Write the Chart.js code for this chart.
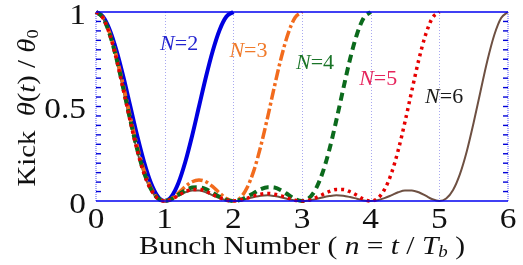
<!DOCTYPE html>
<html>
<head>
<meta charset="utf-8">
<script src="https://cdn.jsdelivr.net/npm/chart.js@4.4.0/dist/chart.umd.min.js"></script>
<style>
  html, body { margin: 0; padding: 0; background: #fff; }
  #wrap { width: 523px; height: 265px; }
</style>
</head>
<body>
<div id="wrap"><canvas id="kickChart"></canvas></div>
<script>
// bunch number n = t / Tb
const bunchN = [0,0.1,0.2,0.3,0.4,0.5,0.6,0.7,0.8,0.9,1,1.1,1.2,1.3,1.4,1.5,1.6,1.7,1.8,1.9,2,
  2.1,2.2,2.3,2.4,2.5,2.6,2.7,2.8,2.9,3,3.1,3.2,3.3,3.4,3.5,3.6,3.7,3.8,3.9,4,
  4.1,4.2,4.3,4.4,4.5,4.6,4.7,4.8,4.9,5,5.1,5.2,5.3,5.4,5.5,5.6,5.7,5.8,5.9,6];

// kick theta(t)/theta0
const kickN2 = [1,.976,.905,.794,.655,.5,.345,.206,.095,.024,0,.024,.095,.206,.345,.5,.655,.794,.905,.976,1];
const kickN3 = [1,.971,.888,.762,.608,.444,.291,.162,.070,.016,0,.013,.042,.076,.102,.111,.102,.076,.042,.013,0,
  .016,.070,.162,.291,.444,.608,.762,.888,.971,1];
const kickN4 = [1,.970,.882,.751,.592,.427,.274,.150,.063,.014,0,.010,.033,.056,.071,.073,.063,.043,.022,.006,0,
  .006,.022,.043,.063,.073,.071,.056,.033,.010,0,.014,.063,.150,.274,.427,.592,.751,.882,.970,1];
const kickN5 = [1,.969,.880,.746,.585,.419,.267,.144,.060,.013,0,.009,.030,.049,.061,.061,.051,.034,.017,.004,0,
  .004,.014,.027,.036,.040,.036,.027,.014,.004,0,.004,.017,.034,.051,.061,.061,.049,.030,.009,0,
  .013,.060,.144,.267,.419,.585,.746,.880,.969,1];
const kickN6 = [1,.968,.878,.743,.581,.415,.263,.142,.058,.013,0,.009,.028,.046,.056,.056,.046,.030,.015,.004,0,
  .003,.012,.021,.028,.030,.026,.019,.010,.003,0,.003,.010,.019,.026,.030,.028,.021,.012,.003,0,
  .004,.015,.030,.046,.056,.056,.046,.028,.009,0,.013,.058,.142,.263,.415,.581,.743,.878,.968,1];

const seriesNames = ["N=2","N=3","N=4","N=5","N=6"];
const xTicks = [0,1,2,3,4,5,6];
const yTickLabels = [0,0.5,1];

const SERIF = '"Liberation Serif", Tinos, "Times New Roman", Times, serif';

function pts(arr){ return arr.map((v,i)=>({x: bunchN[i], y: v})); }

// text with italic / subscript parts
function setFont(ctx, p, size){
  const s = p.sub ? Math.round(size*0.62) : size;
  ctx.font = (p.it ? "italic " : "normal ") + s + "px " + SERIF;
}
function richWidth(ctx, parts, size){
  let w = 0;
  parts.forEach(p=>{ setFont(ctx, p, size); w += ctx.measureText(p.t).width; });
  return w;
}
function drawRich(ctx, parts, x, y, size, color, sx){
  sx = sx || 1;
  ctx.save();
  ctx.translate(x, y);
  ctx.scale(sx, 1);
  const w = richWidth(ctx, parts, size);
  let cx = -w/2;
  ctx.fillStyle = color;
  ctx.textBaseline = "middle";
  ctx.textAlign = "left";
  parts.forEach(p=>{
    setFont(ctx, p, size);
    ctx.fillText(p.t, cx, p.sub ? size*0.25 : 0);
    cx += ctx.measureText(p.t).width;
  });
  ctx.restore();
}

const curveLabels = [
  {n: 1.21, v: 0.825, txt: "2", color: "#2323d0"},
  {n: 2.22, v: 0.79,  txt: "3", color: "#f07a2a"},
  {n: 3.19, v: 0.725, txt: "4", color: "#1a7428"},
  {n: 4.11, v: 0.64,  txt: "5", color: "#e6245c"},
  {n: 5.07, v: 0.545, txt: "6", color: "#1a1a1a"}
];

const framePlugin = {
  id: "frame",
  beforeDatasetsDraw(chart){
    const ctx = chart.ctx, xs = chart.scales.x, ys = chart.scales.y;
    const top = ys.getPixelForValue(1), bot = ys.getPixelForValue(0);
    ctx.save();
    ctx.strokeStyle = "#a8a8f0";
    ctx.lineWidth = 1;
    ctx.setLineDash([1,2]);
    [1,2,3,4,5].forEach(n=>{
      const px = Math.round(xs.getPixelForValue(n)) + 0.5;
      ctx.beginPath(); ctx.moveTo(px, top); ctx.lineTo(px, bot); ctx.stroke();
    });
    ctx.restore();
  },
  afterDatasetsDraw(chart){
    const ctx = chart.ctx, xs = chart.scales.x, ys = chart.scales.y;
    const left = xs.getPixelForValue(0), right = xs.getPixelForValue(6);
    const top = ys.getPixelForValue(1), bot = ys.getPixelForValue(0);
    ctx.save();
    // dotted side axes
    ctx.strokeStyle = "#7070ff";
    ctx.lineWidth = 1.2;
    ctx.setLineDash([1,1]);
    [left, right].forEach(px=>{
      ctx.beginPath(); ctx.moveTo(px, top); ctx.lineTo(px, bot); ctx.stroke();
    });
    ctx.setLineDash([]);
    // inward minor ticks every 0.05
    ctx.strokeStyle = "#0000d8";
    ctx.lineWidth = 1.4;
    for (let k = 1; k < 20; k++){
      const py = ys.getPixelForValue(k*0.05);
      ctx.beginPath(); ctx.moveTo(left, py); ctx.lineTo(left+5, py); ctx.stroke();
      ctx.beginPath(); ctx.moveTo(right, py); ctx.lineTo(right-5, py); ctx.stroke();
    }
    // solid top and bottom lines
    ctx.strokeStyle = "#0000f0";
    ctx.lineWidth = 1.6;
    [top, bot].forEach(py=>{
      ctx.beginPath(); ctx.moveTo(left, py); ctx.lineTo(right, py); ctx.stroke();
    });
    ctx.restore();

    // tick labels
    xTicks.forEach(n=>{
      drawRich(ctx, [{t: String(n)}], xs.getPixelForValue(n), bot + 19, 29, "#111", 1.15);
    });
    yTickLabels.forEach(v=>{
      const w = richWidth(ctx, [{t: String(v)}], 29) * 1.15;
      drawRich(ctx, [{t: String(v)}], left - 10 - w/2, ys.getPixelForValue(v) + 4, 29, "#111", 1.15);
    });

    // axis titles
    drawRich(ctx, [
      {t: "Bunch Number ( "}, {t: "n", it: true}, {t: " = "}, {t: "t", it: true},
      {t: " / "}, {t: "T", it: true}, {t: "b", it: true, sub: true}, {t: " )"}
    ], (left+right)/2, 247, 25, "#111", 1.18);

    ctx.save();
    ctx.translate(28, 108);
    ctx.rotate(-Math.PI/2);
    drawRich(ctx, [
      {t: "Kick  "}, {t: "θ", it: true}, {t: "("}, {t: "t", it: true}, {t: ")"},
      {t: " / "}, {t: "θ", it: true}, {t: "0", sub: true}
    ], 0, 0, 25, "#111", 1.15);
    ctx.restore();

    // curve labels
    curveLabels.forEach(l=>{
      drawRich(ctx, [{t: "N", it: true}, {t: "=" + l.txt}],
        xs.getPixelForValue(l.n), ys.getPixelForValue(l.v), 20, l.color, 1.1);
    });
  }
};

function makeChart(){
  new Chart(document.getElementById("kickChart"), {
    type: "line",
    data: {
      datasets: [
        {label: seriesNames[0], data: pts(kickN2), borderColor: "#0000e0", borderWidth: 4, order: 5},
        {label: seriesNames[1], data: pts(kickN3), borderColor: "#f26b1d", borderWidth: 3.5,
          borderDash: [11,3,3,3], order: 3},
        {label: seriesNames[2], data: pts(kickN4), borderColor: "#0b6a1c", borderWidth: 4,
          borderDash: [8,5], order: 2},
        {label: seriesNames[3], data: pts(kickN5), borderColor: "#e60000", borderWidth: 3.5,
          borderDash: [3,4], order: 1},
        {label: seriesNames[4], data: pts(kickN6), borderColor: "#6e5042", borderWidth: 2, order: 4}
      ]
    },
    options: {
      responsive: true,
      maintainAspectRatio: false,
      animation: false,
      layout: { padding: { left: 96, right: 15, top: 12, bottom: 64 } },
      elements: {
        point: { radius: 0 },
        line: { cubicInterpolationMode: "monotone", fill: false, borderCapStyle: "butt" }
      },
      datasets: { line: { clip: 6 } },
      plugins: { legend: { display: false }, tooltip: { enabled: false } },
      scales: {
        x: { type: "linear", min: 0, max: 6, display: false },
        y: { min: 0, max: 1, display: false }
      }
    },
    plugins: [framePlugin]
  });
}

Promise.all([
  document.fonts.load('25px "Liberation Serif"'),
  document.fonts.load('italic 25px "Liberation Serif"')
]).then(makeChart, makeChart);
</script>
</body>
</html>
